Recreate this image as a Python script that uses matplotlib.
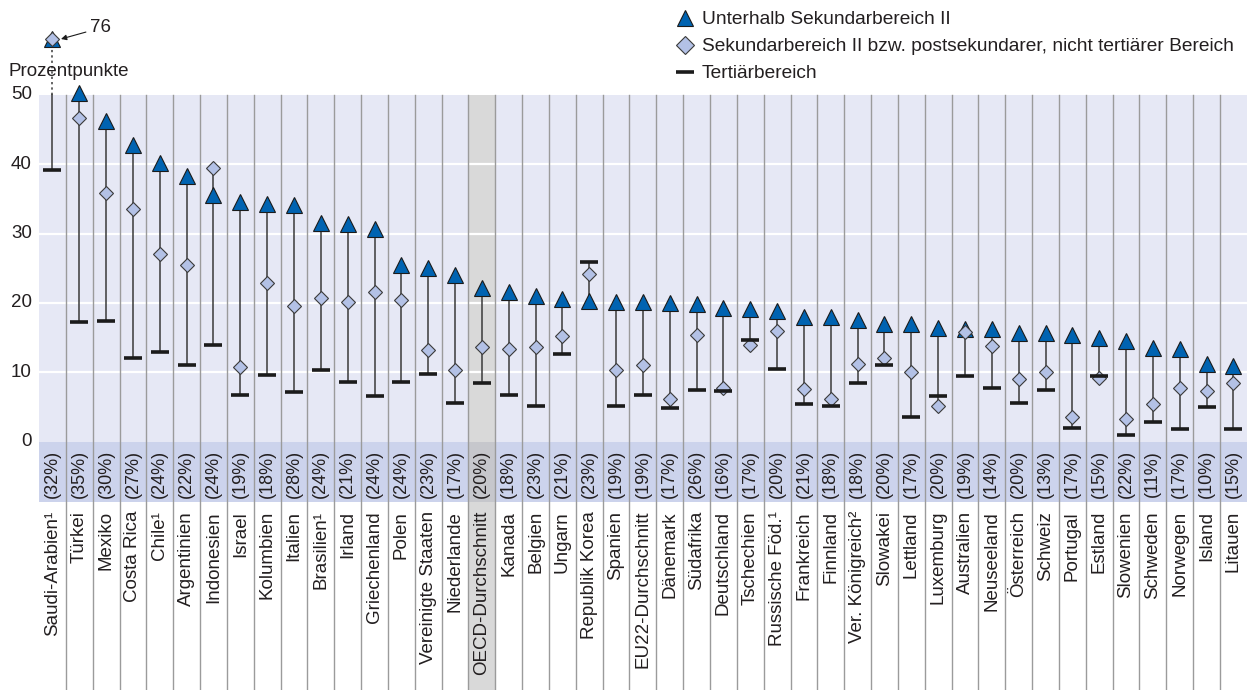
import numpy as np
import matplotlib.pyplot as plt
from matplotlib.patches import Rectangle
from matplotlib.lines import Line2D

countries = ["Saudi-Arabien¹", "Türkei", "Mexiko", "Costa Rica", "Chile¹", "Argentinien",
             "Indonesien", "Israel", "Kolumbien", "Italien", "Brasilien¹", "Irland",
             "Griechenland", "Polen", "Vereinigte Staaten", "Niederlande", "OECD-Durchschnitt",
             "Kanada", "Belgien", "Ungarn", "Republik Korea", "Spanien", "EU22-Durchschnitt",
             "Dänemark", "Südafrika", "Deutschland", "Tschechien", "Russische Föd.¹",
             "Frankreich", "Finnland", "Ver. Königreich²", "Slowakei", "Lettland", "Luxemburg",
             "Australien", "Neuseeland", "Österreich", "Schweiz", "Portugal", "Estland",
             "Slowenien", "Schweden", "Norwegen", "Island", "Litauen"]
shares = [32, 35, 30, 27, 24, 22, 24, 19, 18, 28, 24, 21, 24, 24, 23, 17, 20, 18, 23, 21,
          23, 19, 19, 17, 26, 16, 17, 20, 21, 18, 18, 20, 17, 20, 19, 14, 20, 13, 17, 15,
          22, 11, 17, 10, 15]
# Prozentpunkte
below_upper_sec = [76, 50.2, 46.2, 42.8, 40.1, 38.3, 35.5, 34.5, 34.2, 34.1, 31.5, 31.3,
                   30.7, 25.5, 25.1, 24.0, 22.1, 21.6, 21.0, 20.6, 20.3, 20.1, 20.1, 20.0,
                   19.9, 19.3, 19.1, 18.8, 17.9, 17.9, 17.5, 17.0, 16.9, 16.4, 16.2, 16.2,
                   15.6, 15.6, 15.4, 15.0, 14.5, 13.5, 13.3, 11.2, 10.9]
upper_sec = [76, 46.6, 35.9, 33.5, 27.1, 25.5, 39.5, 10.8, 22.8, 19.5, 20.7, 20.1, 21.5,
             20.4, 13.2, 10.3, 13.7, 13.3, 13.7, 15.3, 24.1, 10.3, 11.0, 6.1, 15.4, 7.7,
             14.0, 16.0, 7.6, 6.1, 11.2, 12.1, 10.1, 5.1, 15.8, 13.8, 9.1, 10.0, 3.5, 9.2,
             3.2, 5.5, 7.8, 7.3, 8.5]
tertiary = [39.2, 17.2, 17.4, 12.1, 12.9, 11.1, 14.0, 6.8, 9.6, 7.2, 10.4, 8.6, 6.6, 8.6,
            9.7, 5.6, 8.4, 6.7, 5.2, 12.6, 25.9, 5.1, 6.7, 4.8, 7.5, 7.3, 14.7, 10.5, 5.5,
            5.1, 8.5, 11.0, 3.6, 6.6, 9.4, 7.7, 5.6, 7.5, 2.0, 9.4, 1.0, 2.8, 1.9, 5.0, 1.8]

plt.rcParams['font.family'] = ['Liberation Sans', 'DejaVu Sans']
txt_col = '#231f20'
tri_style = dict(ls='none', marker='^', ms=11.5, mfc='#0063b1', mec='#1b1b1b', mew=0.8)
dia_style = dict(ls='none', marker='D', ms=7.6, mfc='#b3c1e6', mec='#3a3a3a', mew=0.8)
bar_style = dict(ls='none', marker='_', ms=12.5, mec='#1b1b1b', mew=2.6)

W, H = 1255, 690
fig = plt.figure(figsize=(W / 100, H / 100), dpi=100)
ax = fig.add_axes([0, 0, 1, 1])
ax.set_axis_off()

# pixel geometry of the original chart
left_px, col_px = 39, 26.84
zero_px, unit_px = 441.7, 6.94
n = len(countries)
x = np.arange(n)
ax.set_xlim(-0.5 - left_px / col_px, -0.5 + (W - left_px) / col_px)
ax.set_ylim((zero_px - H) / unit_px, zero_px / unit_px)
ymin = ax.get_ylim()[0]

def px_x(p):
    return (p - left_px) / col_px - 0.5

def px_y(p):
    return (zero_px - p) / unit_px

top = 50
cut = 58  # where off-scale values are drawn
band_bottom = px_y(502)
oecd = countries.index("OECD-Durchschnitt")

# backgrounds
ax.add_patch(Rectangle((-0.5, 0), n, top, fc='#e6e8f5', ec='none', zorder=0))
ax.add_patch(Rectangle((-0.5, band_bottom), n, -band_bottom, fc='#ccd3ec', ec='none', zorder=0))
ax.add_patch(Rectangle((oecd - 0.5, ymin), 1, top - ymin, fc='#d9d9d9', ec='none', zorder=0.5))
ax.add_patch(Rectangle((oecd - 0.5, band_bottom), 1, -band_bottom, fc='#c6c7cc', ec='none', zorder=0.6))

for v in range(10, top, 10):
    ax.plot([-0.5, n - 0.5], [v, v], color='white', lw=1.6, zorder=1)
for i in range(1, n):
    ax.plot([i - 0.5, i - 0.5], [ymin, top], color='#9b9b9b', lw=1.0, zorder=1.5)

# stems
for i in range(n):
    vals = [below_upper_sec[i], upper_sec[i], tertiary[i]]
    lo, hi = min(vals), max(vals)
    ax.plot([i, i], [lo, min(hi, top)], color='#3a3a3a', lw=1.1, zorder=2)
    if hi > cut:
        ax.plot([i, i], [top, cut], color='#3a3a3a', lw=1.1, ls=(0, (1.5, 2)), zorder=2)

tri = np.minimum(below_upper_sec, cut)
dia = np.minimum(upper_sec, cut)
ax.plot(x, tri, zorder=3, **tri_style)
ax.plot(x, dia, zorder=4, **dia_style)
ax.plot(x, tertiary, zorder=5, **bar_style)

# y labels
for v in range(0, top + 1, 10):
    ax.text(px_x(32), v, str(v), ha='right', va='center', fontsize=13.5, color=txt_col)
ax.text(px_x(9), px_y(72), "Prozentpunkte", ha='left', va='center', fontsize=13.5, color=txt_col)

ax.annotate("76", xy=(px_x(61), px_y(39)), xytext=(px_x(90), px_y(28)),
            ha='left', va='center', fontsize=13.5, color=txt_col,
            arrowprops=dict(arrowstyle='-|>', color='#1b1b1b', lw=0.8,
                            mutation_scale=8, shrinkA=1, shrinkB=0))

# category and share labels
for i in range(n):
    ax.text(i, px_y(474), f"({shares[i]}%)", rotation=90, ha='center', va='center',
            fontsize=13, color=txt_col)
    ax.text(i, px_y(511), countries[i], rotation=90, ha='center', va='top',
            fontsize=13.5, color=txt_col)

handles = [Line2D([], [], **tri_style),
           Line2D([], [], **{**dia_style, 'ms': 9}),
           Line2D([], [], **bar_style)]
labels = ["Unterhalb Sekundarbereich II",
          "Sekundarbereich II bzw. postsekundarer, nicht tertiärer Bereich",
          "Tertiärbereich"]
leg = fig.legend(handles, labels, loc='upper left', bbox_to_anchor=(675 / W, 1 - 11 / H),
                 frameon=False, fontsize=13.8, handlelength=1.0, handletextpad=0.4,
                 labelspacing=0.5, borderpad=0, borderaxespad=0)
for t in leg.get_texts():
    t.set_color(txt_col)

fig.savefig("out.png", dpi=100)
